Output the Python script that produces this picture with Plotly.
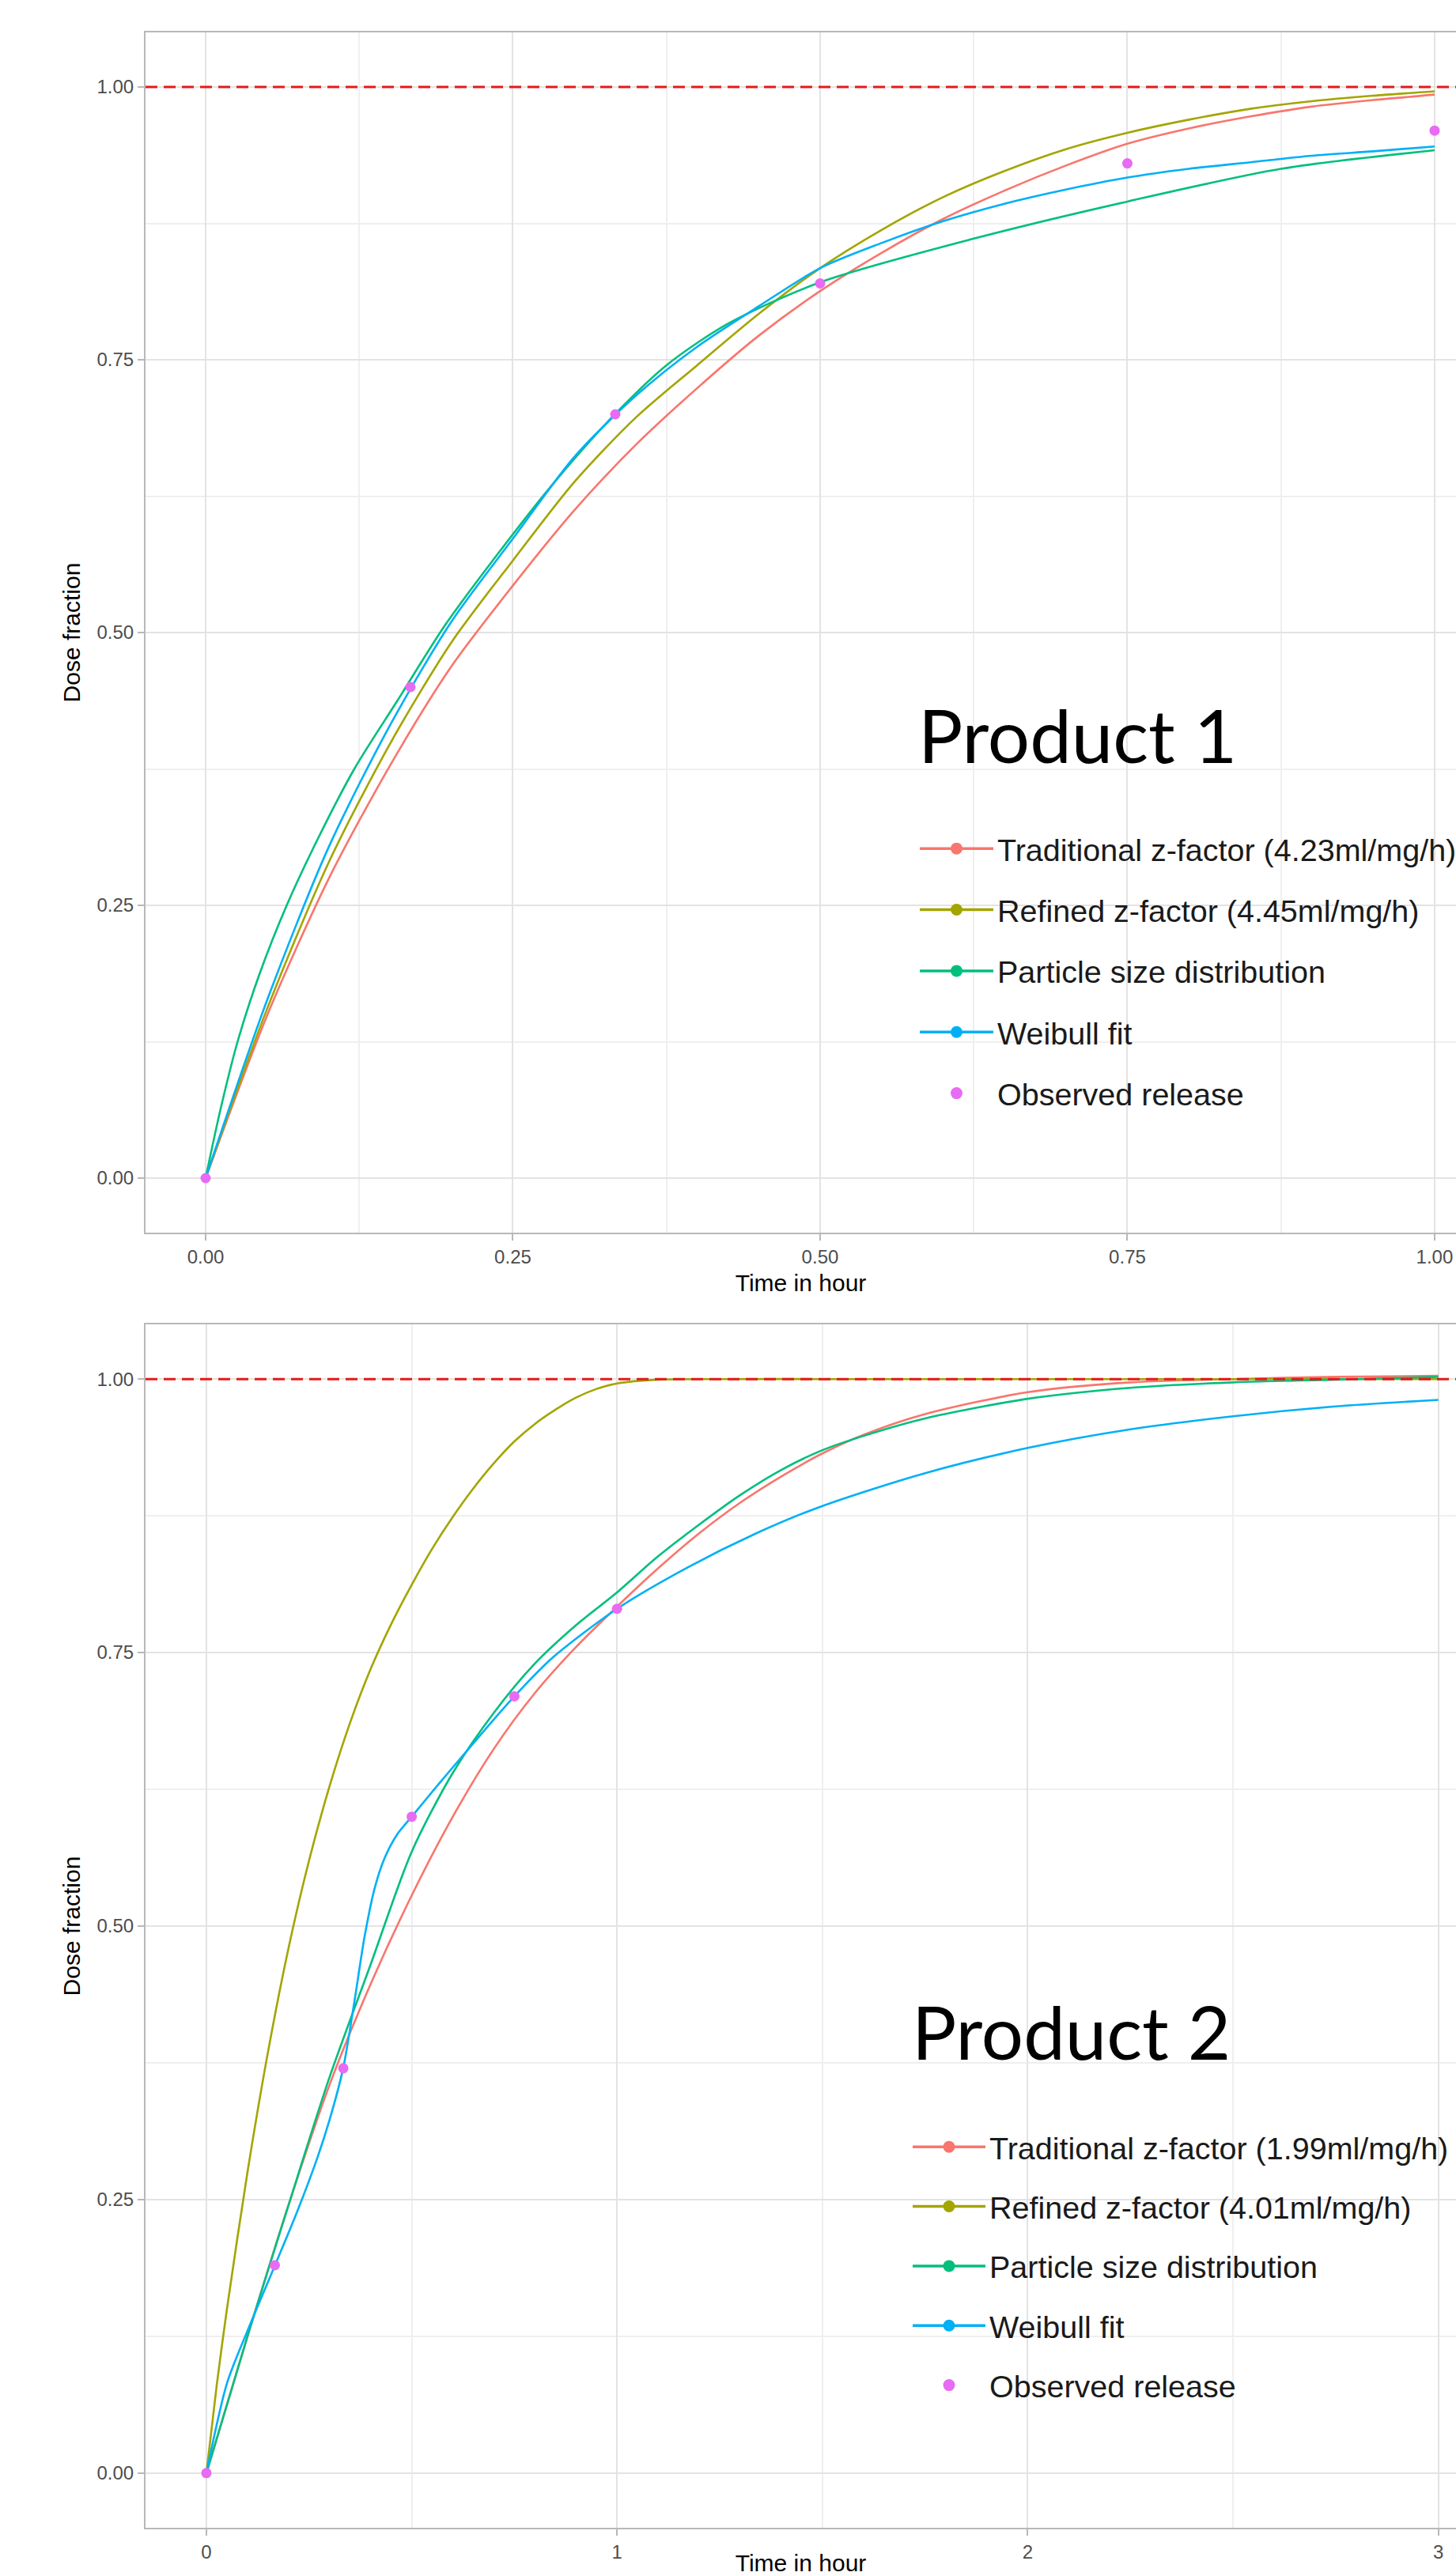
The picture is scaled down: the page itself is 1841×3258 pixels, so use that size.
import plotly.graph_objects as go

# ---------------- data: Product 1 ----------------
t1 = [0, 0.05, 0.1, 0.15, 0.2, 0.25, 0.3, 0.35, 0.4, 0.45, 0.5,
      0.55, 0.6, 0.65, 0.7, 0.75, 0.8, 0.85, 0.9, 0.95, 1.0]
trad1 = [0, 0.149, 0.274, 0.378, 0.469, 0.543, 0.612, 0.672, 0.724, 0.772, 0.813,
         0.848, 0.879, 0.905, 0.928, 0.948, 0.962, 0.973, 0.982, 0.988, 0.993]
refined1 = [0, 0.155, 0.289, 0.398, 0.491, 0.566, 0.638, 0.697, 0.745, 0.792, 0.834,
            0.869, 0.899, 0.923, 0.943, 0.958, 0.970, 0.980, 0.987, 0.992, 0.996]
weibull1 = [0, 0.163, 0.303, 0.415, 0.510, 0.586, 0.661, 0.717, 0.762, 0.799, 0.834,
            0.857, 0.877, 0.893, 0.906, 0.917, 0.925, 0.931, 0.937, 0.941, 0.9455]
t1_psd = [0, 0.012, 0.026, 0.044, 0.066, 0.092, 0.121, 0.156, 0.195, 0.237, 0.281,
          0.333, 0.375, 0.425, 0.5, 0.625, 0.75, 0.875, 1.0]
psd1 = [0, 0.0625, 0.125, 0.1875, 0.25, 0.3125, 0.375, 0.4375, 0.507, 0.571, 0.634,
        0.70, 0.745, 0.783, 0.821, 0.861, 0.895, 0.925, 0.942]
t1_obs = [0, 1/6, 1/3, 0.5, 0.75, 1.0]
obs1 = [0, 0.45, 0.70, 0.82, 0.93, 0.96]

# ---------------- data: Product 2 ----------------
t2_trad = [0, 0.1, 0.2, 0.3, 0.4, 0.5, 0.6, 0.7, 0.8, 0.9, 1.0, 1.1, 1.2, 1.3,
           1.4, 1.5, 1.6, 1.75, 2.0, 2.25, 2.5, 2.75, 3.0]
trad2 = [0, 0.125, 0.245, 0.355, 0.447, 0.528, 0.60, 0.662, 0.713, 0.755, 0.792,
         0.827, 0.859, 0.887, 0.911, 0.932, 0.949, 0.968, 0.988, 0.997, 1.0, 1.002, 1.003]
t2_ref = [0, 0.025, 0.05, 0.1, 0.15, 0.2, 0.25, 0.3, 0.35, 0.4, 0.45, 0.5, 0.55, 0.6,
          0.65, 0.7, 0.75, 0.8, 0.85, 0.9, 0.95, 1.0, 1.1, 1.25, 1.5, 2.0, 2.5, 3.0]
refined2 = [0, 0.08, 0.15, 0.275, 0.385, 0.48, 0.56, 0.628, 0.686, 0.735, 0.776, 0.812,
            0.845, 0.874, 0.900, 0.923, 0.943, 0.959, 0.972, 0.983, 0.991, 0.996, 0.9995,
            1.0, 1.0, 1.0, 1.0, 1.0]
t2_psd = [0, 0.1, 0.2, 0.3, 0.4, 0.5, 0.6, 0.7, 0.8, 0.9, 1.0, 1.1, 1.2, 1.3, 1.4,
          1.5, 1.6, 1.75, 2.0, 2.25, 2.5, 2.75, 3.0]
psd2 = [0, 0.125, 0.245, 0.362, 0.465, 0.568, 0.640, 0.695, 0.740, 0.775, 0.805, 0.838,
        0.867, 0.894, 0.917, 0.935, 0.948, 0.964, 0.982, 0.992, 0.997, 0.9995, 1.002]
t2_wei = [0, 0.05, 0.1, 0.167, 0.22, 0.27, 0.3, 0.333, 0.36, 0.385, 0.41, 0.435, 0.465,
          0.5, 0.566, 0.643, 0.75, 0.842, 1.0, 1.173, 1.339, 1.5, 1.75, 2.0, 2.25, 2.5,
          2.75, 3.0]
weibull2 = [0, 0.082, 0.13, 0.19, 0.238, 0.288, 0.323, 0.37, 0.43, 0.49, 0.535, 0.563,
            0.584, 0.60, 0.63, 0.664, 0.71, 0.745, 0.79, 0.828, 0.859, 0.884, 0.914, 0.937,
            0.954, 0.966, 0.975, 0.981]
t2_obs = [0, 1/6, 1/3, 0.5, 0.75, 1.0]
obs2 = [0, 0.19, 0.37, 0.60, 0.71, 0.79]

REF_LEVEL = 1.0

names1 = ["Traditional z-factor (4.23ml/mg/h)", "Refined z-factor (4.45ml/mg/h)",
          "Particle size distribution", "Weibull fit", "Observed release"]
names2 = ["Traditional z-factor (1.99ml/mg/h)", "Refined z-factor (4.01ml/mg/h)",
          "Particle size distribution", "Weibull fit", "Observed release"]
colors = ["#F8766D", "#A3A500", "#00BF7D", "#00B0F6", "#E76BF3"]

x1_ticks = [0, 0.25, 0.5, 0.75, 1.0]
x1_labels = ["0.00", "0.25", "0.50", "0.75", "1.00"]
x2_ticks = [0, 1, 2, 3]
x2_labels = ["0", "1", "2", "3"]
y_ticks = [0, 0.25, 0.5, 0.75, 1.0]
y_labels = ["0.00", "0.25", "0.50", "0.75", "1.00"]

# ---------------- geometry ----------------
W, H = 1841, 3258
ML, MR, MT, MB = 184, 0, 41, 61
PW = W - ML - MR
PH = H - MT - MB


def px_x(px):
    return (px - ML) / PW


def px_y(py):
    return (H - MB - py) / PH


fig = go.Figure()

LW = 2.6
panels = [
    ("x", "y", "legend",
     [(t1, trad1), (t1, refined1), (t1_psd, psd1), (t1, weibull1)], (t1_obs, obs1), names1),
    ("x2", "y2", "legend2",
     [(t2_trad, trad2), (t2_ref, refined2), (t2_psd, psd2), (t2_wei, weibull2)], (t2_obs, obs2), names2),
]

for xa, ya, lg, curves, obs, names in panels:
    for i, (tx, ty) in enumerate(curves):
        fig.add_trace(go.Scatter(x=tx, y=ty, mode="lines", xaxis=xa, yaxis=ya,
                                 line=dict(color=colors[i], width=LW, shape="spline", smoothing=0.8),
                                 showlegend=False, hoverinfo="skip"))
    fig.add_trace(go.Scatter(x=obs[0], y=obs[1], mode="markers", xaxis=xa, yaxis=ya,
                             marker=dict(color=colors[4], size=13), showlegend=False))
    # legend keys
    for i in range(5):
        mode = "lines+markers" if i < 4 else "markers"
        fig.add_trace(go.Scatter(x=[None], y=[None], mode=mode, xaxis=xa, yaxis=ya,
                                 name=names[i], legend=lg, legendgroup=lg + str(i),
                                 line=dict(color=colors[i], width=3.5),
                                 marker=dict(color=colors[i], size=15), showlegend=True))

tickfont = dict(family="Liberation Sans, Arial, sans-serif", size=24, color="#4D4D4D")
titlefont = dict(family="Liberation Sans, Arial, sans-serif", size=30, color="#000000")
grid = dict(showgrid=True, gridcolor="#E3E3E3", gridwidth=2, zeroline=False,
            showline=True, linecolor="#B8B8B8", linewidth=2, automargin=False,
            ticks="outside", ticklen=8, tickwidth=2, tickcolor="#B8B8B8",
            tickfont=tickfont)
minor = dict(showgrid=True, gridcolor="#EFEFEF", gridwidth=1.5, ticks="")

y1_dom = [px_y(1559), 1.0]
y2_dom = [0.0, px_y(1675)]

fig.update_layout(
    width=W, height=H,
    margin=dict(l=ML, r=MR, t=MT, b=MB, autoexpand=False),
    paper_bgcolor="white", plot_bgcolor="white",
    xaxis=dict(domain=[0, 1], anchor="y", range=[-0.0489, 1.0174],
               tickvals=x1_ticks, ticktext=x1_labels, mirror=True,
               minor=dict(dtick=0.125, tick0=0, **minor),
               title=dict(text="Time in hour", font=titlefont, standoff=10), **grid),
    yaxis=dict(domain=y1_dom, anchor="x", range=[-0.05, 1.05],
               tickvals=y_ticks, ticktext=y_labels,
               minor=dict(dtick=0.125, tick0=0, **minor),
               title=dict(text="Dose fraction", font=titlefont, standoff=12), **grid),
    xaxis2=dict(domain=[0, 1], anchor="y2", range=[-0.1483, 3.0431],
                tickvals=x2_ticks, ticktext=x2_labels, mirror=True,
                minor=dict(dtick=0.5, tick0=0, **minor),
                title=dict(text="Time in hour", font=titlefont, standoff=10), **grid),
    yaxis2=dict(domain=y2_dom, anchor="x2", range=[-0.05, 1.05],
                tickvals=y_ticks, ticktext=y_labels,
                minor=dict(dtick=0.125, tick0=0, **minor),
                title=dict(text="Dose fraction", font=titlefont, standoff=12), **grid),
)

legfont = dict(family="Liberation Sans, Arial, sans-serif", size=39.5, color="#1A1A1A")
fig.update_layout(
    legend=dict(x=px_x(1158), y=px_y(1041), xanchor="left", yanchor="top",
                font=legfont, bgcolor="rgba(0,0,0,0)", itemwidth=93,
                tracegroupgap=23, traceorder="grouped"),
    legend2=dict(x=px_x(1149), y=px_y(2683), xanchor="left", yanchor="top",
                 font=legfont, bgcolor="rgba(0,0,0,0)", itemwidth=92,
                 tracegroupgap=21, traceorder="grouped"),
)

# white boxes behind the pasted titles/legends (cover grid lines)
fig.add_shape(type="rect", xref="paper", yref="paper", layer="between",
              x0=px_x(1145), x1=1.0, y0=px_y(1403), y1=px_y(883),
              fillcolor="white", line=dict(width=0))
fig.add_shape(type="rect", xref="paper", yref="paper", layer="between",
              x0=px_x(1131), x1=1.0, y0=px_y(3055), y1=px_y(2521),
              fillcolor="white", line=dict(width=0))

# reference line at full dose
for xa, ya in [("x", "y"), ("x2", "y2")]:
    fig.add_shape(type="line", xref=xa + " domain", yref=ya, x0=0, x1=1,
                  y0=REF_LEVEL, y1=REF_LEVEL, layer="above",
                  line=dict(color="#E41A1C", width=3, dash="15px,8px"))

prodfont = dict(family="Lato, Open Sans, sans-serif", size=94, color="#000000")
fig.add_annotation(text="Product 1", xref="paper", yref="paper", x=px_x(1159), y=px_y(929),
                   xanchor="left", yanchor="middle", showarrow=False, font=prodfont)
fig.add_annotation(text="Product 2", xref="paper", yref="paper", x=px_x(1151), y=px_y(2568),
                   xanchor="left", yanchor="middle", showarrow=False, font=prodfont)

fig.write_html("out.html", config={"displayModeBar": False},
               post_script="document.body.style.margin='0';document.body.style.overflow='hidden';")
